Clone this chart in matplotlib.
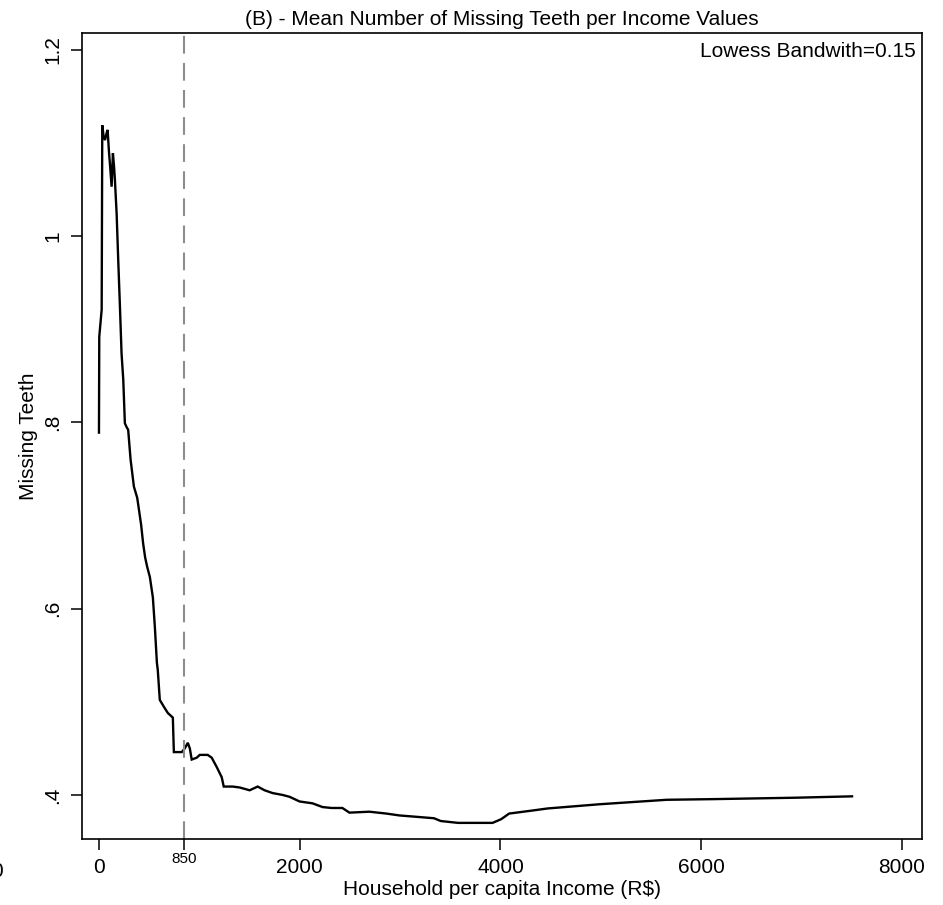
import matplotlib
matplotlib.use("Agg")
import matplotlib.pyplot as plt

plt.rcParams['font.family'] = ['Liberation Sans', 'DejaVu Sans']

income = [0, 3, 27, 33, 45, 60, 75, 86, 100, 109, 126, 139, 150, 159, 176, 192,
          209, 225, 242, 258, 275, 291, 315, 348, 381, 400, 420, 440, 460, 480,
          507, 537, 557, 577, 586, 606, 656, 686, 736, 746, 825, 855, 885, 905,
          924, 974, 1004, 1083, 1123, 1173, 1223, 1243, 1332, 1402, 1501, 1581,
          1650, 1730, 1829, 1899, 1998, 2127, 2227, 2316, 2425, 2495, 2694, 2863,
          2993, 3337, 3405, 3577, 3921, 4007, 4086, 4299, 4471, 4986, 5656, 6120,
          6928, 7502]
missing = [0.789, 0.892, 0.921, 1.119, 1.108, 1.103, 1.110, 1.114, 1.090, 1.078,
           1.053, 1.089, 1.075, 1.060, 1.024, 0.974, 0.924, 0.874, 0.846, 0.799,
           0.795, 0.792, 0.760, 0.731, 0.719, 0.705, 0.690, 0.670, 0.655, 0.645,
           0.634, 0.612, 0.580, 0.542, 0.534, 0.502, 0.493, 0.488, 0.483, 0.446,
           0.446, 0.450, 0.456, 0.450, 0.438, 0.440, 0.443, 0.443, 0.440, 0.430,
           0.419, 0.409, 0.409, 0.408, 0.405, 0.409, 0.405, 0.402, 0.400, 0.398,
           0.393, 0.391, 0.387, 0.386, 0.386, 0.381, 0.382, 0.380, 0.378, 0.375,
           0.372, 0.370, 0.370, 0.374, 0.380, 0.383, 0.3855, 0.390, 0.3948,
           0.3955, 0.397, 0.3985]

cutoff = 850
x_ticks = [0, 2000, 4000, 6000, 8000]
y_ticks = [0.4, 0.6, 0.8, 1.0, 1.2]
y_tick_labels = ['.4', '.6', '.8', '1', '1.2']

FS = 15

fig = plt.figure(figsize=(9.43, 9.05), dpi=100)
ax = fig.add_axes([82/943, 1-839/905, (922-82)/943, (839-33)/905])

ax.plot(income, missing, color='black', lw=1.7, solid_joinstyle='miter')
ax.axvline(cutoff, color='#8c8c8c', lw=1.5, dashes=(8.5, 4.5))

ax.set_xlim(-169, 8199)
ax.set_ylim(0.3527, 1.218)

ax.set_xticks(x_ticks)
ax.set_xticklabels([str(t) for t in x_ticks])
ax.set_xticks([cutoff], minor=True)
ax.set_xticklabels([str(cutoff)], minor=True)
ax.set_yticks(y_ticks)
ax.set_yticklabels(y_tick_labels, rotation=90, va='center')

ax.tick_params(axis='both', which='major', length=8, width=1.1, labelsize=FS,
               color='black', direction='out')
ax.tick_params(axis='x', which='major', pad=6)
ax.tick_params(axis='y', which='major', pad=6)
ax.tick_params(axis='x', which='minor', length=8, width=1.1, labelsize=11, pad=1)

for s in ax.spines.values():
    s.set_linewidth(1.2)

ax.set_xlabel('Household per capita Income (R$)', fontsize=FS, labelpad=2)
ax.set_ylabel('Missing Teeth', fontsize=FS, labelpad=4)
ax.set_title('(B) - Mean Number of Missing Teeth per Income Values', fontsize=FS, pad=6)
ax.text(0.992, 0.989, 'Lowess Bandwith=0.15', transform=ax.transAxes,
        ha='right', va='top', fontsize=FS)

fig.text(3/943, 1-862/905, '0', ha='right', va='top', fontsize=FS)

fig.savefig('out.png', dpi=100)
